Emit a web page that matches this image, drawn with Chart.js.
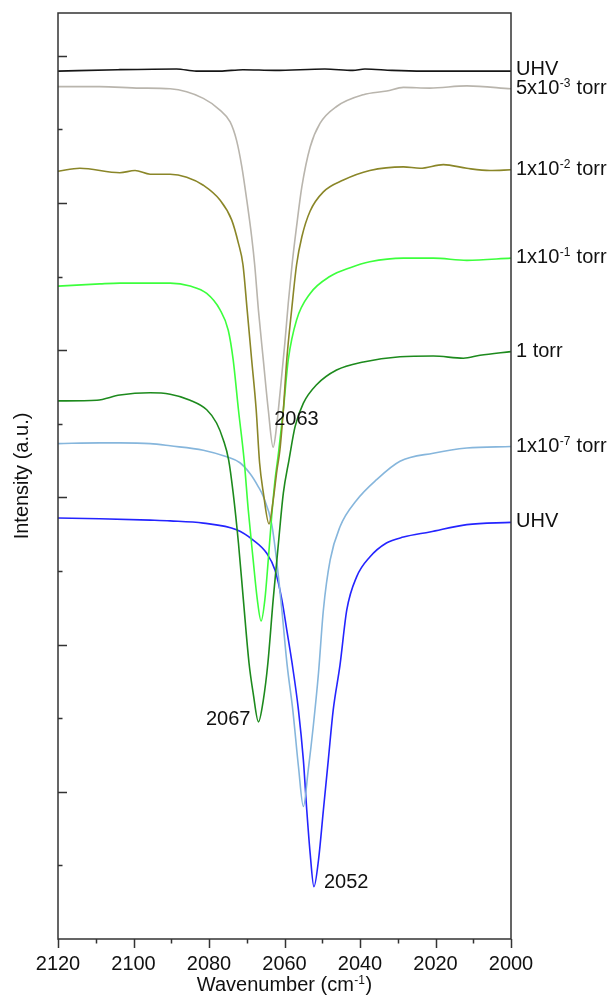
<!DOCTYPE html>
<html>
<head>
<meta charset="utf-8">
<script src="https://cdn.jsdelivr.net/npm/chart.js@4.4.1/dist/chart.umd.min.js"></script>
<style>
  html, body { margin: 0; padding: 0; background: #fff; }
  canvas { display: block; }
</style>
</head>
<body>
<canvas id="ir-chart" width="616" height="1003"></canvas>
<script>
/* IR spectra vs pressure: stacked traces with peak labels */

const FONT = '"Liberation Sans", Arial, sans-serif';
const FS = 20;     // main text size
const FS_SUP = 12; // superscript size

// x ticks (wavenumber, cm-1)
const xTicks = [2120, 2100, 2080, 2060, 2040, 2020, 2000];

// UHV (top, black)
const uhvTopWn = [2120, 2104.1, 2088.6, 2083.4, 2077.1, 2071.0, 2062.5, 2049.3, 2041.9, 2038.7, 2031.5, 2023.3, 2010.6, 2000];
const uhvTopI = [117.9, 118.1, 118.2, 117.9, 117.9, 118.1, 118.0, 118.2, 118.0, 118.2, 118.0, 117.9, 117.9, 117.9];

// 5x10-3 torr (grey)
const p5e3Wn = [2120, 2108.9, 2098.3, 2090.3, 2081.5, 2077.1, 2074.4, 2072.7, 2071.3, 2070.0, 2068.7, 2067.9, 2066.9, 2065.6, 2064.3, 2063.0, 2062.1, 2061.2, 2059.9, 2059.0, 2058.0, 2056.8, 2055.4, 2053.2, 2050.6, 2046.2, 2039.1, 2032.9, 2028.5, 2021.5, 2011.7, 2000];
const p5e3I = [115.8, 115.8, 115.6, 115.5, 114.2, 112.6, 111.0, 108.5, 104.9, 100.4, 95.4, 91.6, 85.4, 78.6, 71.9, 66.8, 69.6, 74.1, 81.0, 86.4, 91.6, 96.8, 102.2, 107.6, 110.8, 113.1, 114.7, 115.2, 115.7, 115.6, 115.9, 115.5];

// 1x10-2 torr (olive)
const p1e2Wn = [2120, 2114.2, 2103.6, 2099.6, 2095.6, 2090.3, 2085.9, 2081.5, 2077.1, 2074.0, 2072.2, 2071.0, 2069.9, 2068.7, 2067.5, 2066.6, 2065.6, 2064.1, 2063.0, 2062.0, 2061.2, 2060.3, 2059.4, 2058.1, 2056.8, 2055.4, 2053.2, 2049.7, 2044.4, 2037.4, 2028.5, 2024.1, 2017.9, 2011.7, 2005.6, 2000];
const p1e2I = [104.3, 104.7, 104.1, 104.4, 103.9, 103.9, 103.5, 102.4, 100.4, 97.7, 94.5, 91.6, 85.5, 78.7, 71.9, 64.7, 60.6, 56.4, 59.6, 63.7, 66.5, 71.9, 78.7, 85.5, 91.6, 95.4, 98.9, 101.5, 103.1, 104.4, 104.9, 104.7, 105.2, 104.7, 104.4, 104.5];

// 1x10-1 torr (bright green)
const p1e1Wn = [2120, 2108.9, 2103.6, 2095.6, 2090.3, 2085.0, 2080.6, 2077.1, 2074.9, 2073.6, 2072.2, 2070.7, 2069.6, 2068.3, 2067.2, 2066.2, 2065.2, 2064.3, 2063.4, 2062.5, 2061.6, 2060.3, 2059.0, 2056.8, 2053.2, 2048.0, 2042.6, 2037.4, 2028.5, 2020.6, 2011.7, 2000];
const p1e1I = [88.7, 89.0, 89.1, 89.1, 89.1, 88.7, 87.7, 85.5, 82.7, 78.7, 71.9, 65.1, 58.3, 51.5, 46.1, 43.2, 46.1, 51.5, 57.4, 62.4, 66.0, 71.9, 78.7, 84.1, 87.7, 90.0, 91.2, 92.0, 92.5, 92.5, 92.2, 92.5];

// 1 torr (dark green)
const p1Wn = [2120, 2109.7, 2103.6, 2095.6, 2090.3, 2085.0, 2080.6, 2078.0, 2076.2, 2074.8, 2073.6, 2072.2, 2070.9, 2069.4, 2068.3, 2066.9, 2065.6, 2064.4, 2063.0, 2061.6, 2060.3, 2058.8, 2057.2, 2055.0, 2051.5, 2046.2, 2039.1, 2029.4, 2020.6, 2012.6, 2008.2, 2000];
const p1I = [73.1, 73.2, 73.9, 74.2, 74.0, 73.2, 71.9, 70.1, 67.8, 65.1, 60.6, 53.8, 46.1, 37.5, 33.4, 29.5, 32.5, 37.5, 46.1, 53.8, 60.6, 65.1, 69.6, 72.8, 75.3, 77.3, 78.4, 79.1, 79.2, 78.9, 79.3, 79.8];

// 1x10-7 torr (light blue)
const p1e7Wn = [2120, 2108.9, 2103.6, 2095.6, 2090.3, 2081.5, 2075.3, 2071.8, 2069.1, 2067.0, 2065.6, 2063.4, 2062.1, 2060.7, 2059.3, 2057.8, 2056.3, 2055.0, 2053.7, 2052.4, 2051.0, 2049.7, 2047.9, 2045.3, 2040.9, 2035.6, 2029.4, 2020.6, 2011.7, 2000];
const p1e7I = [67.3, 67.4, 67.4, 67.3, 67.0, 66.4, 65.5, 64.7, 63.2, 61.5, 60.1, 56.4, 51.5, 44.7, 37.2, 31.1, 23.4, 18.0, 23.0, 28.8, 36.1, 44.7, 51.5, 56.0, 59.6, 62.4, 64.9, 66.0, 66.7, 66.9];

// UHV (bottom, blue)
const uhvBotWn = [2120, 2108.9, 2095.6, 2090.3, 2081.5, 2072.7, 2068.3, 2064.7, 2062.5, 2060.7, 2059.4, 2058.0, 2056.3, 2055.0, 2054.1, 2053.2, 2052.2, 2051.0, 2049.7, 2048.4, 2047.1, 2045.3, 2043.5, 2040.9, 2037.4, 2033.0, 2028.5, 2021.5, 2011.7, 2000];
const uhvBotI = [57.2, 57.1, 56.9, 56.8, 56.5, 55.6, 54.2, 52.4, 50.1, 46.1, 42.0, 37.5, 31.1, 24.3, 17.5, 11.6, 7.1, 10.7, 17.5, 24.3, 31.1, 37.2, 44.7, 49.2, 51.9, 53.8, 54.6, 55.3, 56.3, 56.6];

// right-hand trace labels: [text, superscript, text]
const seriesLabels = [
  ["UHV", "", ""],
  ["5x10", "-3", " torr"],
  ["1x10", "-2", " torr"],
  ["1x10", "-1", " torr"],
  ["1 torr", "", ""],
  ["1x10", "-7", " torr"],
  ["UHV", "", ""],
];
const seriesColors = ["#161616", "#b9b5ad", "#8a8628", "#3cff3c", "#1d8a1d", "#86b6dc", "#2424ff"];

// peak annotations: value, series index
const peakLabels = [
  { text: "2063", series: 1 },
  { text: "2067", series: 4 },
  { text: "2052", series: 6 },
];

const traces = [
  [uhvTopWn, uhvTopI],
  [p5e3Wn, p5e3I],
  [p1e2Wn, p1e2I],
  [p1e1Wn, p1e1I],
  [p1Wn, p1I],
  [p1e7Wn, p1e7I],
  [uhvBotWn, uhvBotI],
];

function drawRich(ctx, parts, x, y, align) {
  const [main, sup, rest] = parts;
  ctx.font = `${FS}px ${FONT}`;
  const w1 = ctx.measureText(main).width;
  const w3 = ctx.measureText(rest).width;
  ctx.font = `${FS_SUP}px ${FONT}`;
  const w2 = sup ? ctx.measureText(sup).width + 1 : 0;
  const total = w1 + w2 + w3;
  let cx = align === "right" ? x - total : align === "center" ? x - total / 2 : x;
  ctx.textAlign = "left";
  ctx.textBaseline = "alphabetic";
  ctx.font = `${FS}px ${FONT}`;
  ctx.fillText(main, cx, y);
  cx += w1;
  if (sup) {
    ctx.font = `${FS_SUP}px ${FONT}`;
    ctx.fillText(sup, cx + 0.5, y - 7);
    cx += w2;
  }
  ctx.font = `${FS}px ${FONT}`;
  if (rest) ctx.fillText(rest, cx, y);
}

// frame, inward/outward ticks, labels
const decorations = {
  id: "decorations",
  afterDatasetsDraw(chart) {
    const { ctx, chartArea: a, scales } = chart;
    const xs = scales.x, ys = scales.y;
    ctx.save();
    ctx.strokeStyle = "#333";
    ctx.lineWidth = 1.5;
    ctx.strokeRect(a.left, a.top, a.right - a.left, a.bottom - a.top);

    ctx.beginPath();
    for (let w = 2000; w <= 2120; w += 10) {
      const px = Math.round(xs.getPixelForValue(w)) + 0.5;
      const len = w % 20 === 0 ? 9 : 4.5;
      ctx.moveTo(px, a.bottom);
      ctx.lineTo(px, a.bottom + len);
    }
    for (let v = 10; v <= 120; v += 10) {
      const py = Math.round(ys.getPixelForValue(v)) + 0.5;
      const len = v % 20 === 0 ? 9 : 4.5;
      ctx.moveTo(a.left, py);
      ctx.lineTo(a.left + len, py);
    }
    ctx.stroke();

    ctx.fillStyle = "#111";
    // trace labels at the right end of each line
    traces.forEach(([wn, inten], i) => {
      const yEnd = ys.getPixelForValue(inten[inten.length - 1]);
      drawRich(ctx, seriesLabels[i], a.right + 5, yEnd + (i === 0 ? 4 : 5), "left");
    });

    // peak positions
    peakLabels.forEach((p) => {
      const [wn, inten] = traces[p.series];
      const k = inten.indexOf(Math.min(...inten));
      const px = xs.getPixelForValue(wn[k]);
      const py = ys.getPixelForValue(inten[k]);
      if (p.series === 1) drawRich(ctx, [p.text, "", ""], px + 1, py - 22, "left");
      else if (p.series === 4) drawRich(ctx, [p.text, "", ""], px - 8, py + 3.5, "right");
      else drawRich(ctx, [p.text, "", ""], px + 10, py + 1.5, "left");
    });

    // x axis title
    drawRich(ctx, ["Wavenumber (cm", "-1", ")"], (a.left + a.right) / 2, 991, "center");
    ctx.restore();
  },
};

const ctx = document.getElementById("ir-chart");
new Chart(ctx, {
  type: "scatter",
  data: {
    datasets: traces.map(([wn, inten], i) => ({
      label: seriesLabels[i].join(""),
      data: wn.map((x, k) => ({ x, y: inten[k] })),
      showLine: true,
      borderColor: seriesColors[i],
      borderWidth: 1.6,
      pointRadius: 0,
      cubicInterpolationMode: "monotone",
    })),
  },
  options: {
    responsive: false,
    animation: false,
    layout: { padding: { top: 13, right: 105, bottom: 0, left: 0 } },
    plugins: { legend: { display: false }, tooltip: { enabled: false } },
    scales: {
      x: {
        type: "linear",
        reverse: true,
        min: 2000,
        max: 2120,
        afterFit: (s) => { s.height = 64; },
        afterBuildTicks: (s) => { s.ticks = xTicks.map((v) => ({ value: v })); },
        grid: { display: false, drawTicks: false },
        border: { display: false },
        ticks: {
          padding: 13,
          color: "#111",
          font: { family: FONT, size: FS },
          maxRotation: 0,
          callback: (v) => String(v),
        },
      },
      y: {
        min: 0,
        max: 125.8,
        afterFit: (s) => { s.width = 58; },
        grid: { display: false, drawTicks: false },
        border: { display: false },
        ticks: { display: false },
        title: {
          display: true,
          text: "Intensity (a.u.)",
          color: "#111",
          font: { family: FONT, size: FS },
          padding: { top: 10, bottom: 0 },
        },
      },
    },
  },
  plugins: [decorations],
});
</script>
</body>
</html>
